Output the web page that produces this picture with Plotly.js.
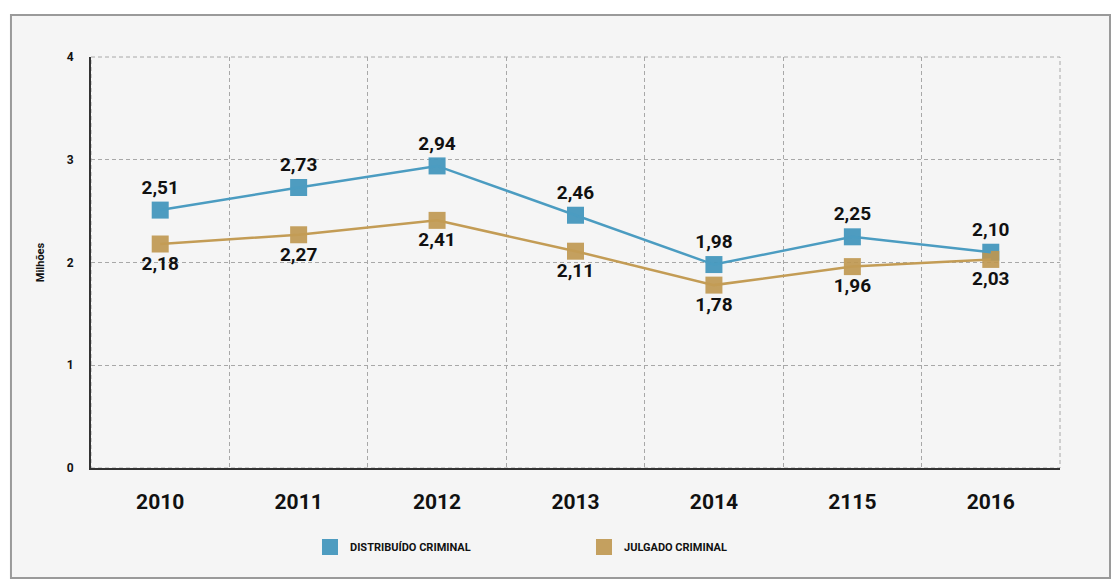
<!DOCTYPE html>
<html><head><meta charset="utf-8">
<script src="https://cdn.plot.ly/plotly-3.0.1.min.js"></script>
<style>html,body{margin:0;padding:0;background:#fff}#chart{width:1120px;height:588px}</style>
</head><body><div id="chart"></div>
<script>
const years = ["2010","2011","2012","2013","2014","2115","2016"];
const distribuido = [2.51, 2.73, 2.94, 2.46, 1.98, 2.25, 2.10];
const julgado = [2.18, 2.27, 2.41, 2.11, 1.78, 1.96, 2.03];
const yTicks = [0, 1, 2, 3, 4];
const seriesNames = ["DISTRIBUÍDO CRIMINAL", "JULGADO CRIMINAL"];

const FONT = 'Roboto, "Liberation Sans", Arial, sans-serif';
const xIdx = years.map((_, i) => i);
const boundaries = years.map((_, i) => i + 0.5);
const blue = '#4497bd', blueLine = '#4b9cc1';
const gold = '#bf974f', goldLine = '#c39c55';
const gridCol = '#a8a8a8';

const traces = [
  {x: xIdx, y: distribuido, name: seriesNames[0], type: 'scatter', mode: 'markers+text',
   marker: {symbol: 'square', size: 17, color: blue, opacity: 0.95},
   texttemplate: '%{y:.2f}', textposition: 'top center',
   textfont: {family: FONT, size: 19, color: '#111', weight: 'bold'}, cliponaxis: false, hoverinfo: 'skip'},
  {x: xIdx, y: julgado, name: seriesNames[1], type: 'scatter', mode: 'markers+text',
   marker: {symbol: 'square', size: 17, color: gold, opacity: 0.9},
   texttemplate: '%{y:.2f}', textposition: 'bottom center',
   textfont: {family: FONT, size: 19, color: '#111', weight: 'bold'}, cliponaxis: false, hoverinfo: 'skip'},
  {x: xIdx, y: distribuido, type: 'scatter', mode: 'lines', showlegend: false,
   line: {color: blueLine, width: 2.5}, hoverinfo: 'skip'},
  {x: xIdx, y: julgado, type: 'scatter', mode: 'lines', showlegend: false,
   line: {color: goldLine, width: 2.5}, hoverinfo: 'skip'}
];

const layout = {
  width: 1120, height: 588,
  margin: {l: 91, r: 60, t: 57, b: 120},
  paper_bgcolor: '#ffffff', plot_bgcolor: 'rgba(0,0,0,0)',
  separators: ',.',
  font: {family: FONT, color: '#111'},
  showlegend: true,
  legend: {orientation: 'h', x: 0.226, xanchor: 'left', y: -0.192, yanchor: 'middle',
    font: {family: FONT, size: 11, color: '#111', weight: 'bold'}, entrywidth: 229, bgcolor: 'rgba(0,0,0,0)'},
  xaxis: {range: [-0.5, years.length - 0.5], tickmode: 'array', tickvals: xIdx, ticktext: years,
    showgrid: false, zeroline: false, showline: true, linecolor: '#333', linewidth: 2,
    ticks: '', ticklabelstandoff: 14,
    tickfont: {family: FONT, size: 21, color: '#111', weight: 'bold'},
    minor: {tickmode: 'array', tickvals: boundaries, showgrid: true, gridcolor: gridCol, griddash: '4px,3px', gridwidth: 1, ticks: ''}},
  yaxis: {range: [0, 4], tickmode: 'array', tickvals: yTicks,
    showgrid: true, gridcolor: gridCol, griddash: '4px,3px', gridwidth: 1,
    zeroline: false, showline: true, linecolor: '#333', linewidth: 2, ticks: '',
    ticklabelstandoff: 13,
    tickfont: {family: FONT, size: 12, color: '#111', weight: 'bold'},
    title: {text: 'Milhões', standoff: 20, font: {family: FONT, size: 11, color: '#111', weight: 'bold'}}},
  shapes: [
    {type: 'rect', xref: 'paper', yref: 'paper', layer: 'below',
     x0: -0.0826, x1: 1.0516, y0: -0.2676, y1: 1.1022,
     fillcolor: '#f5f5f5', line: {color: '#9a9a9a', width: 2}},
    {type: 'rect', xref: 'paper', yref: 'paper', layer: 'below',
     x0: 0, x1: 1, y0: 0, y1: 1,
     fillcolor: 'rgba(0,0,0,0)', line: {color: gridCol, width: 1, dash: '4px,3px'}}
  ]
};
Plotly.newPlot('chart', traces, layout, {displayModeBar: false, staticPlot: true});
</script></body></html>
